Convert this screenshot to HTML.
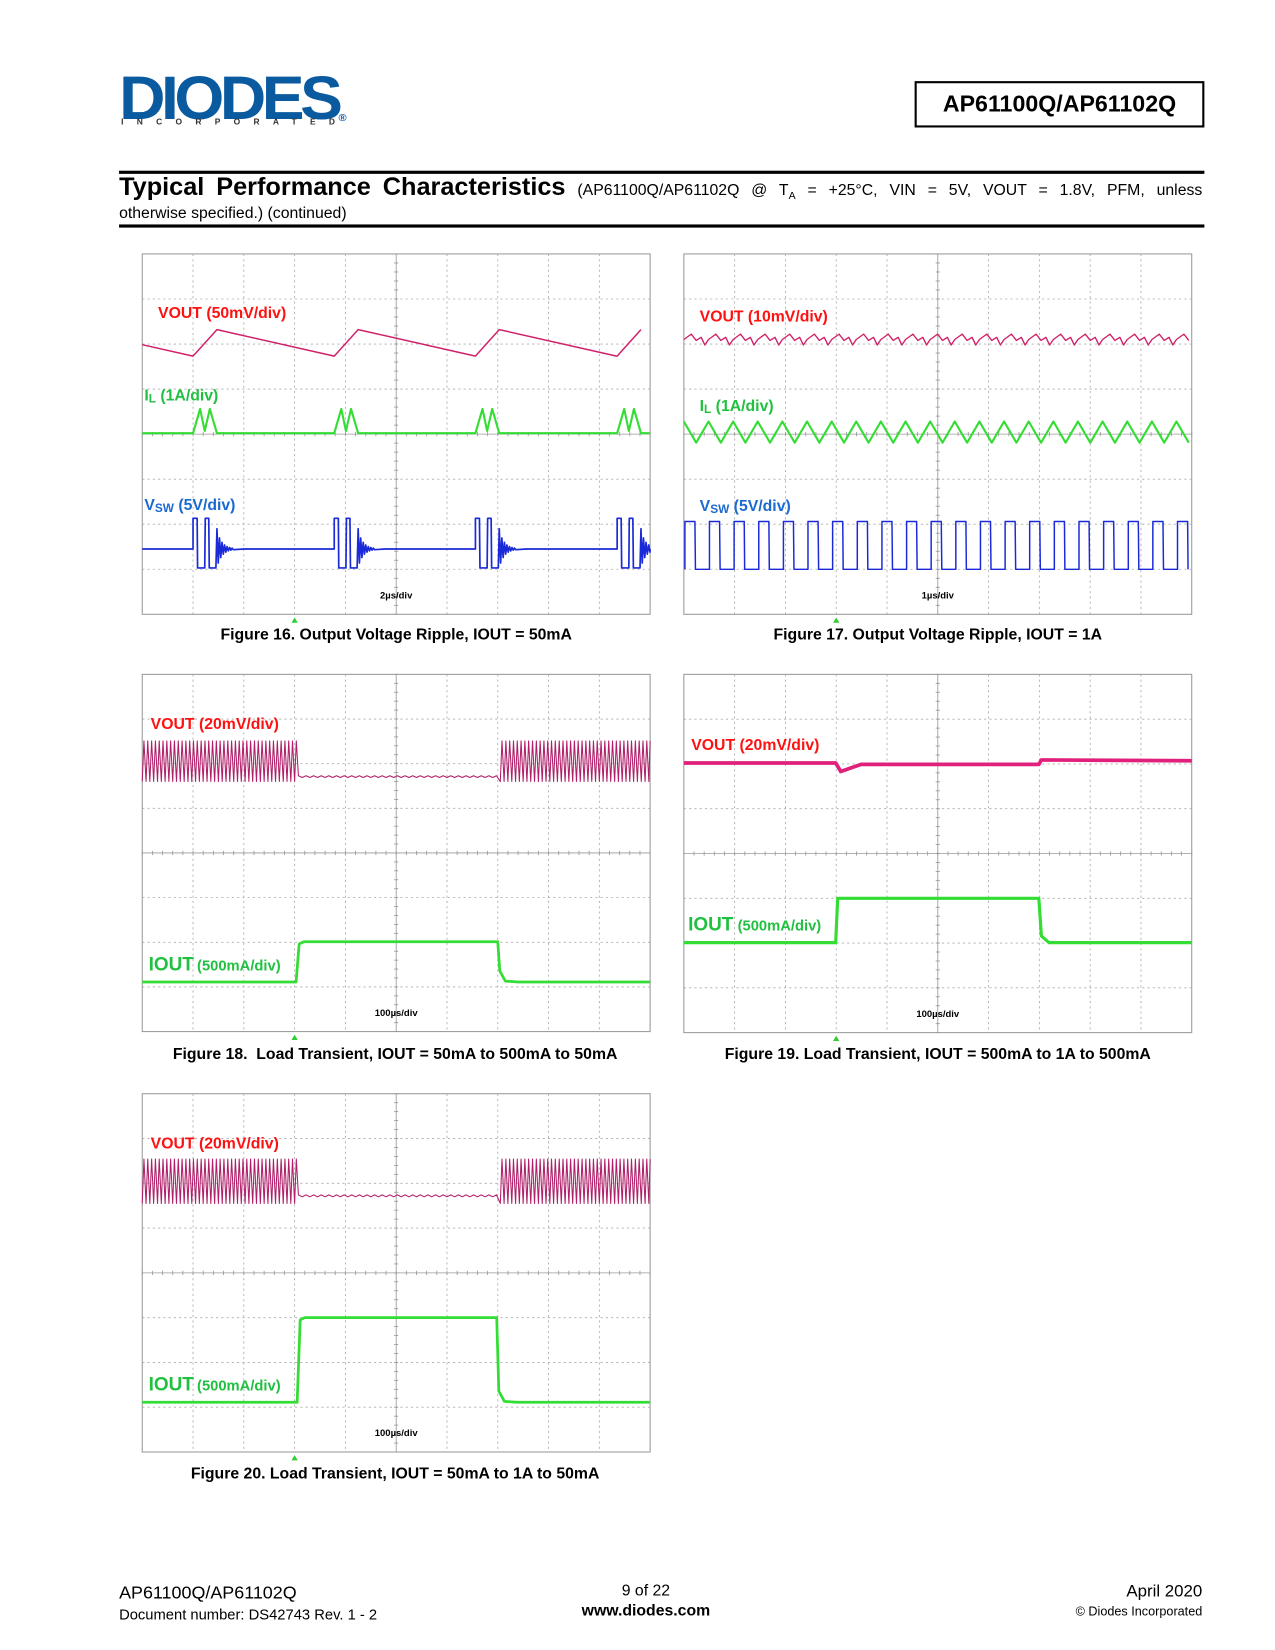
<!DOCTYPE html>
<html><head><meta charset="utf-8"><style>
body{margin:0;background:#fff;font-family:"Liberation Sans",Arial,sans-serif;}
#outer{position:relative;width:1275px;height:1650px;overflow:hidden;}
#page{position:absolute;left:0;top:0;width:1210px;height:1566px;transform:scale(1.0537);transform-origin:0 0;}
.a{position:absolute;white-space:nowrap;}
.cap{position:absolute;font-weight:bold;font-size:15px;text-align:center;width:482px;}
</style></head><body>
<div id="outer">
<div id="page">
<div class="a" style="left:113px;top:60px;font-family:'Liberation Sans',sans-serif;font-weight:900;font-size:58px;color:#0a5aa0;letter-spacing:-4px;transform:scaleX(1.05);transform-origin:left;">DIODES<span style="font-size:10px;letter-spacing:0;vertical-align:-2px;">®</span></div>
<div class="a" style="left:115px;top:111px;font-size:8px;font-weight:bold;letter-spacing:12.6px;color:#333;">INCORPORATED</div>
<div class="a" style="left:868px;top:77px;width:271px;height:40px;border:2px solid #000;font-weight:bold;font-size:22px;line-height:40px;text-align:center;">AP61100Q/AP61102Q</div>
<div class="a" style="left:113px;top:162px;width:1030px;height:3px;background:#000;"></div>
<div class="a" style="left:113px;top:165px;width:1028px;text-align:justify;text-align-last:justify;font-size:15px;white-space:normal;line-height:26px;"><b style="font-size:24px;">Typical</b> <b style="font-size:24px;">Performance</b> <b style="font-size:24px;">Characteristics</b> (AP61100Q/AP61102Q @ T<sub style="font-size:10px">A</sub> = +25°C, VIN = 5V, VOUT = 1.8V, PFM, unless</div>
<div class="a" style="left:113px;top:194px;font-size:15px;">otherwise specified.) (continued)</div>
<div class="a" style="left:113px;top:213px;width:1030px;height:3px;background:#000;"></div>

<div class="cap" style="left:135px;top:594px;">Figure 16. Output Voltage Ripple, IOUT = 50mA</div>
<div class="cap" style="left:649px;top:594px;">Figure 17. Output Voltage Ripple, IOUT = 1A</div>
<div class="cap" style="left:105px;top:992px;width:540px;">Figure 18.&nbsp; Load Transient, IOUT = 50mA to 500mA to 50mA</div>
<div class="cap" style="left:620px;top:992px;width:540px;">Figure 19. Load Transient, IOUT = 500mA to 1A to 500mA</div>
<div class="cap" style="left:105px;top:1390px;width:540px;">Figure 20. Load Transient, IOUT = 50mA to 1A to 50mA</div>

<div class="a" style="left:113px;top:1502px;font-size:17px;">AP61100Q/AP61102Q</div>
<div class="a" style="left:113px;top:1524px;font-size:14px;">Document number: DS42743 Rev. 1 - 2</div>
<div class="a" style="left:513px;top:1501px;width:200px;text-align:center;font-size:15px;">9 of 22</div>
<div class="a" style="left:513px;top:1520px;width:200px;text-align:center;font-size:15px;font-weight:bold;">www.diodes.com</div>
<div class="a" style="left:941px;top:1502px;width:200px;text-align:right;font-size:16px;">April 2020</div>
<div class="a" style="left:941px;top:1522px;width:200px;text-align:right;font-size:12px;">© Diodes Incorporated</div>

<svg id="scopes" width="1210" height="1566" style="position:absolute;left:0;top:0;" xmlns="http://www.w3.org/2000/svg"></svg>
</div>
</div>
<script>
// ---- data (time in divisions, value in divisions from screen centre) ----
const f16Cycles=[1.0,3.78,6.56,9.35];
const f16VoutPeak=2.32, f16VoutTrough=1.73;
const f16IlBase=0.02, f16IlPeak=0.56;
const f16SwBase=-2.55, f16SwHigh=-1.87, f16SwLow=-2.97;
const f17Period=[0.485];
const f17Vout=[2.1,0.12];
const f17Il=[0.28,-0.19];
const f17Sw=[-1.94,-3.0];
const f18Steps=[3.03,7.0];
const f18VoutRipple=[2.51,1.6];
const f18VoutFlat=[1.71];
const f18Iout=[-2.89,-1.99];
const f19Steps=[2.99,6.99];
const f19Vout=[2.02,1.83,2.09];
const f19Iout=[-1.99,-1.0];
const f20Steps=[3.05,6.98];
const f20VoutRipple=[2.54,1.55];
const f20VoutFlat=[1.72];
const f20Iout=[-2.89,-1.0];

const plots={
 f16:{x:135,y:241,w:482,h:342,tb:'2µs/div'},
 f17:{x:649,y:241,w:482,h:342,tb:'1µs/div'},
 f18:{x:135,y:640,w:482,h:339,tb:'100µs/div'},
 f19:{x:649,y:640,w:482,h:340,tb:'100µs/div'},
 f20:{x:135,y:1038,w:482,h:340,tb:'100µs/div'}
};
const NS='http://www.w3.org/2000/svg';
const svg=document.getElementById('scopes');
function X(p,t){return p.x+t*p.w/10;}
function Y(p,v){return p.y+(4-v)*p.h/8;}
function el(tag,attrs,parent){const e=document.createElementNS(NS,tag);for(const k in attrs)e.setAttribute(k,attrs[k]);(parent||svg).appendChild(e);return e;}
function grid(p,name){
 const g=el('g',{});
 
 
 el('rect',{x:p.x,y:p.y,width:p.w,height:p.h,fill:'#fff',stroke:'#999','stroke-width':1},g);
 for(let i=1;i<10;i++){if(i==5)continue;el('line',{x1:X(p,i),x2:X(p,i),y1:p.y,y2:p.y+p.h,stroke:'#aaa','stroke-dasharray':'2,3','stroke-width':0.8},g);}
 for(let j=1;j<8;j++){if(j==4)continue;const y=p.y+j*p.h/8;el('line',{x1:p.x,x2:p.x+p.w,y1:y,y2:y,stroke:'#aaa','stroke-dasharray':'2,3','stroke-width':0.8},g);}
 el('line',{x1:X(p,5),x2:X(p,5),y1:p.y,y2:p.y+p.h,stroke:'#999','stroke-width':0.8},g);
 el('line',{x1:p.x,x2:p.x+p.w,y1:Y(p,0),y2:Y(p,0),stroke:'#999','stroke-width':0.8},g);
 for(let k=0;k<=50;k++){const x=p.x+k*p.w/50;el('line',{x1:x,x2:x,y1:Y(p,0)-2,y2:Y(p,0)+2,stroke:'#999','stroke-width':0.8},g);}
 for(let k=0;k<=40;k++){const y=p.y+k*p.h/40;el('line',{x1:X(p,5)-2,x2:X(p,5)+2,y1:y,y2:y,stroke:'#999','stroke-width':0.8},g);}
 const t=el('text',{x:X(p,5),y:p.y+p.h-15,'font-size':9,'font-weight':'bold','text-anchor':'middle','font-family':'Liberation Sans, sans-serif'},g);
 t.textContent=p.tb;
 el('polygon',{points:`${X(p,3)-3},${p.y+p.h+8} ${X(p,3)+3},${p.y+p.h+8} ${X(p,3)},${p.y+p.h+3}`,fill:'#3c3'},g);
}
function trace(p,pts,color,name,w){
 const d=pts.map((q,i)=>(i?'L':'M')+X(p,Math.max(0,Math.min(10,q[0]))).toFixed(1)+','+Y(p,q[1]).toFixed(1)).join('');
 const e=el('path',{d:d,fill:'none',stroke:color,'stroke-width':w||1.6,'stroke-linejoin':'round'});
 
 
}
function label(x,y,txt,sub,rest,color,name,size){
 const t=el('text',{x:x,y:y,fill:color,'font-size':size||15,'font-weight':'bold','font-family':'Liberation Sans, sans-serif'});
 
 
 const a=el('tspan',{},t);a.textContent=txt;
 if(sub){const b=el('tspan',{'font-size':(size||15)*0.75,dy:2},t);b.textContent=sub;const c=el('tspan',{dy:-2},t);c.textContent=rest;}
}
// ---- Figure 16 ----
(function(){const p=plots.f16;grid(p,'figure-16');
 const per=f16Cycles[1]-f16Cycles[0];const slope=(f16VoutPeak-f16VoutTrough)/(per-0.47);
 let v=[[0,f16VoutTrough+slope*f16Cycles[0]]];
 f16Cycles.forEach(c=>{v.push([c,f16VoutTrough]);v.push([c+0.47,f16VoutPeak]);v.push([c+per,f16VoutTrough]);});
 trace(p,v.filter(q=>q[0]<=10.3),'#d0206a','figure-16-vout-trace',1.4);
 let il=[[0,f16IlBase]];
 f16Cycles.forEach(c=>{il.push([c,f16IlBase],[c+0.14,f16IlPeak],[c+0.23,f16IlBase+0.05],[c+0.33,f16IlPeak],[c+0.47,f16IlBase]);});
 il.push([10,f16IlBase]);trace(p,il,'#33dd33','figure-16-il-trace',2);
 let sw=[[0,f16SwBase]];
 f16Cycles.forEach(c=>{sw.push([c,f16SwBase],[c,f16SwHigh],[c+0.08,f16SwHigh],[c+0.09,f16SwLow],[c+0.23,f16SwLow],[c+0.24,f16SwHigh],[c+0.31,f16SwHigh],[c+0.32,f16SwLow],[c+0.45,f16SwLow],[c+0.47,f16SwBase+0.45]);
  for(let k=1;k<14;k++)sw.push([c+0.47+k*0.025,f16SwBase+(k%2?-1:1)*0.4*Math.exp(-k/4)]);sw.push([c+1,f16SwBase]);});
 sw.push([10,f16SwBase]);trace(p,sw.filter(q=>q[0]<=10),'#1a2ad8','figure-16-vsw-trace',1.6);
 label(150,302,'VOUT (50mV/div)','','','#ff1111','figure-16-vout-label');
 label(137,380,'I','L',' (1A/div)','#22c040','figure-16-il-label');
 label(137,484,'V','SW',' (5V/div)','#1a6ad0','figure-16-vsw-label');
})();
// ---- Figure 17 ----
(function(){const p=plots.f17;grid(p,'figure-17');const T=f17Period[0];
 let v=[],il=[],sw=[];
 for(let t=0;t<=10;t+=T){v.push([t,f17Vout[0]],[t+T*0.3,f17Vout[0]+f17Vout[1]],[t+T*0.5,f17Vout[0]-0.02],[t+T*0.7,f17Vout[0]+0.05],[t+T*0.85,f17Vout[0]-f17Vout[1]]);
  il.push([t,f17Il[0]],[t+T/2,f17Il[1]]);
  sw.push([t+0.02,f17Sw[1]],[t+0.02,f17Sw[0]],[t+T*0.45,f17Sw[0]],[t+T*0.47,f17Sw[1]]);}
 trace(p,v.filter(q=>q[0]<=10),'#d0206a','figure-17-vout-trace',1.3);
 trace(p,il.filter(q=>q[0]<=10),'#33dd33','figure-17-il-trace',2);
 trace(p,sw.filter(q=>q[0]<=10),'#1a2ad8','figure-17-vsw-trace',1.4);
 label(664,305,'VOUT (10mV/div)','','','#ff1111','figure-17-vout-label');
 label(664,390,'I','L',' (1A/div)','#22c040','figure-17-il-label');
 label(664,485,'V','SW',' (5V/div)','#1a6ad0','figure-17-vsw-label');
})();
// ---- Figures 18 / 20 ----
function loadT(p,name,steps,rip,flat,iout){
 grid(p,name);const T=0.075;let v=[];
 for(let t=0;t<10;t+=T){const on=(t<steps[0]||t>steps[1]+0.05);
  if(on){v.push([t,rip[1]],[t+T*0.45,rip[0]]);}else{v.push([t,flat[0]+(Math.floor(t/T)%2?0.02:-0.02)]);}}
 trace(p,v,'#b0206a',name+'-vout-trace',1);
 trace(p,[[0,iout[0]],[steps[0],iout[0]],[steps[0]+0.06,iout[1]-0.05],[steps[0]+0.15,iout[1]],[steps[1],iout[1]],[steps[1]+0.04,iout[0]+0.25],[steps[1]+0.15,iout[0]+0.02],[steps[1]+0.4,iout[0]],[10,iout[0]]],'#33dd33',name+'-iout-trace',2.6);
 label(p.x+8,p.y+52,'VOUT (20mV/div)','','','#ff1111',name+'-vout-label');
 label(p.x+6,Y(p,iout[0])-11,'IOUT','',' ','#22c040',name+'-iout-label',18);
 label(p.x+52,Y(p,iout[0])-11,'(500mA/div)','','','#22c040',name+'-iout-scale',14);
}
loadT(plots.f18,'figure-18',f18Steps,f18VoutRipple,f18VoutFlat,f18Iout);
loadT(plots.f20,'figure-20',f20Steps,f20VoutRipple,f20VoutFlat,f20Iout);
// ---- Figure 19 ----
(function(){const p=plots.f19;grid(p,'figure-19');
 trace(p,[[0,f19Vout[0]],[f19Steps[0],f19Vout[0]],[f19Steps[0]+0.1,f19Vout[1]],[f19Steps[0]+0.5,f19Vout[0]-0.03],[f19Steps[1],f19Vout[0]-0.03],[f19Steps[1]+0.05,f19Vout[2]],[10,f19Vout[2]-0.02]],'#e0207a','figure-19-vout-trace',3.5);
 trace(p,[[0,f19Iout[0]],[f19Steps[0],f19Iout[0]],[f19Steps[0]+0.04,f19Iout[1]],[f19Steps[1],f19Iout[1]],[f19Steps[1]+0.05,f19Iout[0]+0.15],[f19Steps[1]+0.2,f19Iout[0]],[10,f19Iout[0]]],'#33dd33','figure-19-iout-trace',3);
 label(656,712,'VOUT (20mV/div)','','','#ff1111','figure-19-vout-label');
 label(653,883,'IOUT','','','#22c040','figure-19-iout-label',18);
 label(700,883,'(500mA/div)','','','#22c040','figure-19-iout-scale',14);
})();
</script>
</body></html>
